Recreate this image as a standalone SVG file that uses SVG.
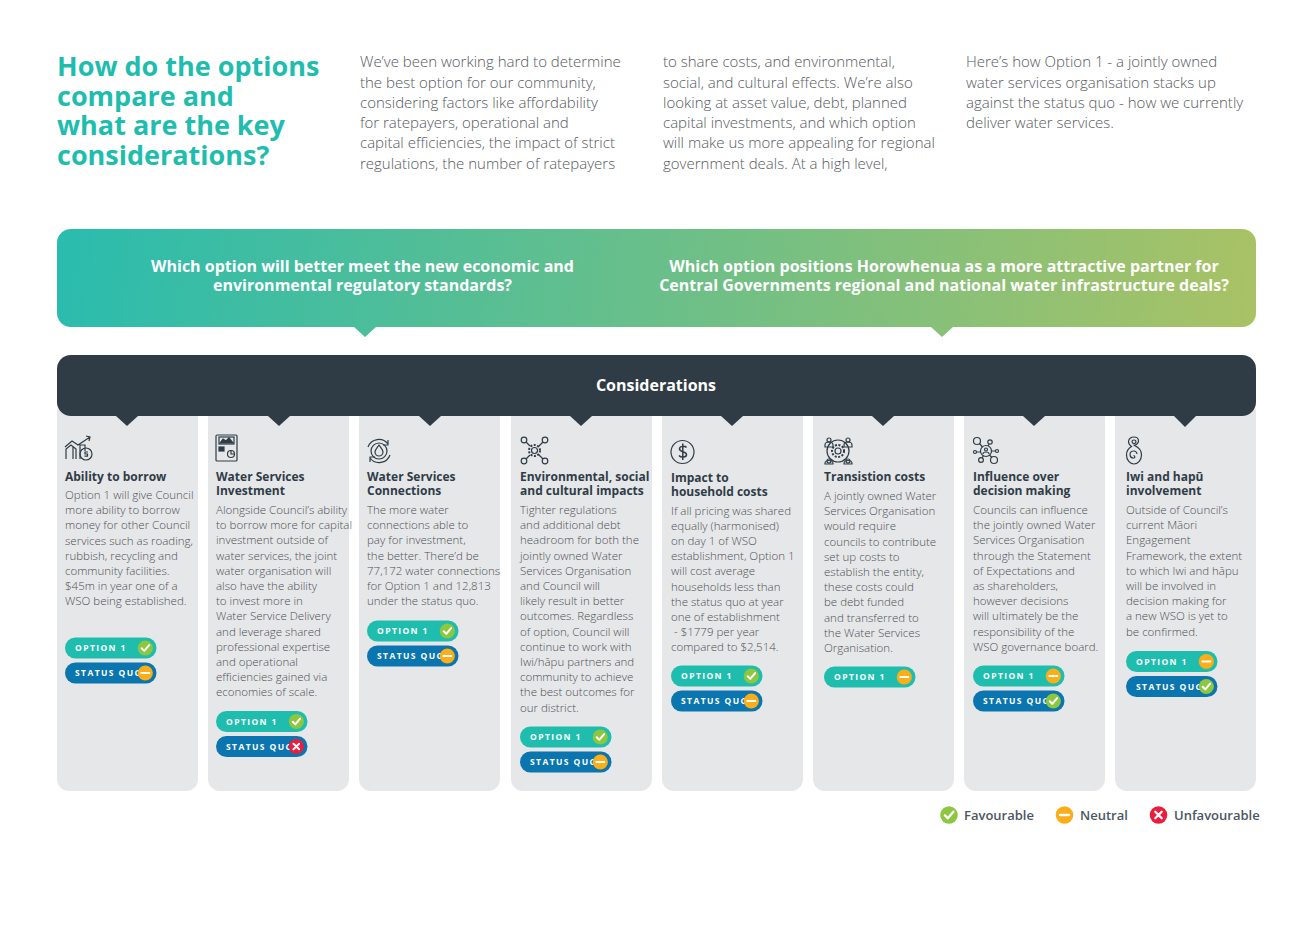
<svg xmlns="http://www.w3.org/2000/svg" width="1311" height="927" viewBox="0 0 1311 927">
<style>
text{font-family:"Open Sans","Noto Sans","Liberation Sans",sans-serif}
.h{font-size:27px;font-weight:700;fill:#1fbdae}
.p{font-size:15px;font-weight:300;fill:#55595e}
.q{font-size:16px;font-weight:700;fill:#fff;text-anchor:middle}
.card{fill:#e6e7e9}
.t{font-size:12px;font-weight:700;fill:#2f3c46}
.b{font-size:11.5px;font-weight:300;fill:#4c5054}
.pt{font-size:8.5px;font-weight:700;fill:#fff;letter-spacing:1.4px}
.o{fill:#1fbdae}.s{fill:#0a75ae}
.i{fill:none;stroke:#2f3c46;stroke-width:1.2}
.m{fill:none;stroke:#fff;stroke-width:2;stroke-linecap:round;stroke-linejoin:round}
.l{font-size:13px;font-weight:600;fill:#4b5661}
</style>
<defs>
<linearGradient id="g" gradientUnits="userSpaceOnUse" x1="57" y1="229" x2="1256" y2="327">
<stop offset="0" stop-color="#2abcae"/><stop offset="1" stop-color="#a9c265"/>
</linearGradient>
<g id="ok"><circle r="7.6" fill="#8dc63f"/><path class="m" d="M-3.6 0.2L-1 2.9L3.8-2.9"/></g>
<g id="ne"><circle r="7.6" fill="#fbae17"/><path class="m" d="M-4 0H4"/></g>
<g id="no"><circle r="7.6" fill="#ed1c3c"/><path class="m" d="M-2.8-2.8L2.8 2.8M2.8-2.8L-2.8 2.8"/></g>
<g id="po"><rect width="91.500" height="21" rx="10.500" class="o"/><text class="pt" x="10" y="13.700">OPTION 1</text></g>
<g id="ps"><rect width="91.500" height="21" rx="10.500" class="s"/><text class="pt" x="10" y="13.700">STATUS QUO</text></g>
</defs>

<g id="intro">
<text class="h"><tspan x="57" y="76">How do the options</tspan><tspan x="57" y="106">compare and</tspan><tspan x="57" y="135">what are the key</tspan><tspan x="57" y="165">considerations?</tspan></text>
<text class="p"><tspan x="360" y="67">We’ve been working hard to determine</tspan><tspan x="360" y="88">the best option for our community,</tspan><tspan x="360" y="108">considering factors like affordability</tspan><tspan x="360" y="128">for ratepayers, operational and</tspan><tspan x="360" y="148">capital efficiencies, the impact of strict</tspan><tspan x="360" y="169">regulations, the number of ratepayers</tspan></text>
<text class="p"><tspan x="663" y="67">to share costs, and environmental,</tspan><tspan x="663" y="88">social, and cultural effects. We’re also</tspan><tspan x="663" y="108">looking at asset value, debt, planned</tspan><tspan x="663" y="128">capital investments, and which option</tspan><tspan x="663" y="148">will make us more appealing for regional</tspan><tspan x="663" y="169">government deals. At a high level,</tspan></text>
<text class="p"><tspan x="966" y="67">Here’s how Option 1 - a jointly owned</tspan><tspan x="966" y="88">water services organisation stacks up</tspan><tspan x="966" y="108">against the status quo - how we currently</tspan><tspan x="966" y="128">deliver water services.</tspan></text>
</g>

<g id="cards">
<g id="card-1"><rect class="card" x="57" y="400" width="141" height="391" rx="12"/>
<g class="i"><path d="M66 459V449l5-4 5 4v10M73 459V447M80 459V445h5v6M65 447l7-6 6 4 12-8M86 436l4 1-1 4"/><circle cx="86" cy="454" r="6"/><path d="M88 452h-3v2h2.500v2.200h-3"/></g>
<text class="t" x="65" y="481">Ability to borrow</text>
<text class="b"><tspan x="65" y="499">Option 1 will give Council</tspan><tspan x="65" y="514.200">more ability to borrow</tspan><tspan x="65" y="529.400">money for other Council</tspan><tspan x="65" y="544.600">services such as roading,</tspan><tspan x="65" y="559.800">rubbish, recycling and</tspan><tspan x="65" y="575">community facilities.</tspan><tspan x="65" y="590.200">$45m in year one of a</tspan><tspan x="65" y="605.400">WSO being established.</tspan></text>
<use href="#po" x="65" y="637.500"/><use href="#ok" x="145.300" y="648"/><use href="#ps" x="65" y="662.500"/><use href="#ne" x="145.300" y="673"/></g>

<g id="card-2"><rect class="card" x="208" y="400" width="141" height="391" rx="12"/>
<g class="i"><rect x="216" y="435" width="21" height="26" rx="1"/><rect x="219" y="437" width="15" height="7"/><path d="M220 443l3-4 3 2 3-3 4 5z" fill="#2f3c46"/><rect x="219" y="447" width="5" height="4" fill="#2f3c46"/><circle cx="231" cy="454" r="3.500"/><path d="M231 450.500V454h3.500"/></g>
<text class="t"><tspan x="216" y="481">Water Services</tspan><tspan x="216" y="495">Investment</tspan></text>
<text class="b"><tspan x="216" y="514">Alongside Council’s ability</tspan><tspan x="216" y="529.200">to borrow more for capital</tspan><tspan x="216" y="544.400">investment outside of</tspan><tspan x="216" y="559.600">water services, the joint</tspan><tspan x="216" y="574.800">water organisation will</tspan><tspan x="216" y="590">also have the ability</tspan><tspan x="216" y="605.200">to invest more in</tspan><tspan x="216" y="620.400">Water Service Delivery</tspan><tspan x="216" y="635.600">and leverage shared</tspan><tspan x="216" y="650.800">professional expertise</tspan><tspan x="216" y="666">and operational</tspan><tspan x="216" y="681.200">efficiencies gained via</tspan><tspan x="216" y="696.400">economies of scale.</tspan></text>
<use href="#po" x="216" y="711"/><use href="#ok" x="296.300" y="721.500"/><use href="#ps" x="216" y="736"/><use href="#no" x="296.300" y="746.500"/></g>

<g id="card-3"><rect class="card" x="359" y="400" width="141" height="391" rx="12"/>
<g class="i"><path d="M368 447a11.500 11.500 0 0 1 20-3M390 455a11.500 11.500 0 0 1-20 3M388 440v5h-5M370 462v-5h5"/><circle cx="379" cy="451" r="8"/><path d="M379 445c-2 3-4 5-4 7a4 4 0 0 0 8 0c0-2-2-4-4-7z"/></g>
<text class="t"><tspan x="367" y="481">Water Services</tspan><tspan x="367" y="495">Connections</tspan></text>
<text class="b"><tspan x="367" y="514">The more water</tspan><tspan x="367" y="529.200">connections able to</tspan><tspan x="367" y="544.400">pay for investment,</tspan><tspan x="367" y="559.600">the better. There’d be</tspan><tspan x="367" y="574.800">77,172 water connections</tspan><tspan x="367" y="590">for Option 1 and 12,813</tspan><tspan x="367" y="605.200">under the status quo.</tspan></text>
<use href="#po" x="367" y="620.500"/><use href="#ok" x="447.300" y="631"/><use href="#ps" x="367" y="645.500"/><use href="#ne" x="447.300" y="656"/></g>

<g id="card-4"><rect class="card" x="511" y="400" width="141" height="391" rx="12"/>
<g class="i"><circle cx="524" cy="440" r="2.800"/><circle cx="545" cy="440" r="2.800"/><circle cx="524" cy="461" r="2.800"/><circle cx="545" cy="461" r="2.800"/><path d="M526 442l4 4M543 442l-4 4M526 459l4-4M543 459l-4-4"/><circle cx="534.500" cy="450.500" r="3"/><circle cx="534.500" cy="450.500" r="5.500" stroke-width="2" stroke-dasharray="2 1.500"/></g>
<text class="t"><tspan x="520" y="481">Environmental, social</tspan><tspan x="520" y="495">and cultural impacts</tspan></text>
<text class="b"><tspan x="520" y="514">Tighter regulations</tspan><tspan x="520" y="529.200">and additional debt</tspan><tspan x="520" y="544.400">headroom for both the</tspan><tspan x="520" y="559.600">jointly owned Water</tspan><tspan x="520" y="574.800">Services Organisation</tspan><tspan x="520" y="590">and Council will</tspan><tspan x="520" y="605.200">likely result in better</tspan><tspan x="520" y="620.400">outcomes. Regardless</tspan><tspan x="520" y="635.600">of option, Council will</tspan><tspan x="520" y="650.800">continue to work with</tspan><tspan x="520" y="666">Iwi/hāpu partners and</tspan><tspan x="520" y="681.200">community to achieve</tspan><tspan x="520" y="696.400">the best outcomes for</tspan><tspan x="520" y="711.600">our district.</tspan></text>
<use href="#po" x="520" y="726.500"/><use href="#ok" x="600.300" y="737"/><use href="#ps" x="520" y="751.500"/><use href="#ne" x="600.300" y="762"/></g>

<g id="card-5"><rect class="card" x="662" y="400" width="141" height="391" rx="12"/>
<g class="i"><circle cx="682.500" cy="452" r="11.500"/><path d="M686.500 447.500c-1-1.500-7-2-7 1.500s7 2 7 5.500-6 3-7.500 1M682.800 443.500V460" stroke-width="1.500"/></g>
<text class="t"><tspan x="671" y="482">Impact to</tspan><tspan x="671" y="496">household costs</tspan></text>
<text class="b"><tspan x="671" y="514.500">If all pricing was shared</tspan><tspan x="671" y="529.700">equally (harmonised)</tspan><tspan x="671" y="544.900">on day 1 of WSO</tspan><tspan x="671" y="560.100">establishment, Option 1</tspan><tspan x="671" y="575.300">will cost average</tspan><tspan x="671" y="590.500">households less than</tspan><tspan x="671" y="605.700">the status quo at year</tspan><tspan x="671" y="620.900">one of establishment</tspan><tspan x="671" y="636.100"> - $1779 per year</tspan><tspan x="671" y="651.300">compared to $2,514.</tspan></text>
<use href="#po" x="671" y="665.500"/><use href="#ok" x="751.300" y="676"/><use href="#ps" x="671" y="690.500"/><use href="#ne" x="751.300" y="701"/></g>

<g id="card-6"><rect class="card" x="813" y="400" width="141" height="391" rx="12"/>
<g class="i"><circle cx="838" cy="451" r="3"/><circle cx="838" cy="451" r="6" stroke-width="2" stroke-dasharray="2 1.500"/><circle cx="838" cy="451" r="11"/><circle cx="829" cy="440" r="2"/><circle cx="848" cy="440" r="2"/><circle cx="829" cy="461" r="2"/><circle cx="848" cy="461" r="2"/><path d="M825 447v-2a4 3 0 0 1 8 0v2zM844 447v-2a4 3 0 0 1 8 0v2zM825 464v-.500a4 3 0 0 1 8 0v.500zM844 464v-.500a4 3 0 0 1 8 0v.500z"/></g>
<text class="t" x="824" y="481">Transistion costs</text>
<text class="b"><tspan x="824" y="500">A jointly owned Water</tspan><tspan x="824" y="515.200">Services Organisation</tspan><tspan x="824" y="530.400">would require</tspan><tspan x="824" y="545.600">councils to contribute</tspan><tspan x="824" y="560.800">set up costs to</tspan><tspan x="824" y="576">establish the entity,</tspan><tspan x="824" y="591.200">these costs could</tspan><tspan x="824" y="606.400">be debt funded</tspan><tspan x="824" y="621.600">and transferred to</tspan><tspan x="824" y="636.800">the Water Services</tspan><tspan x="824" y="652">Organisation.</tspan></text>
<use href="#po" x="824" y="666.500"/><use href="#ne" x="904.300" y="677"/></g>

<g id="card-7"><rect class="card" x="964" y="400" width="141" height="391" rx="12"/>
<g class="i"><circle cx="986" cy="451" r="5.500"/><circle cx="986" cy="449.500" r="1.500"/><path d="M983 454a3 2 0 0 1 6 0"/><circle cx="977" cy="441" r="3.500"/><circle cx="990" cy="442" r="2.200"/><circle cx="975" cy="452" r="1.500"/><circle cx="997" cy="451" r="1.500"/><circle cx="981" cy="460" r="2.400"/><circle cx="994" cy="460" r="3.500"/><path d="M979.500 443.500l3 3.500M989 444l-1 2M976.500 452h4M991.500 451h4M982 458l1.500-2.500M992 457.500l-2.500-2.500"/></g>
<text class="t"><tspan x="973" y="481">Influence over</tspan><tspan x="973" y="495">decision making</tspan></text>
<text class="b"><tspan x="973" y="514">Councils can influence</tspan><tspan x="973" y="529.200">the jointly owned Water</tspan><tspan x="973" y="544.400">Services Organisation</tspan><tspan x="973" y="559.600">through the Statement</tspan><tspan x="973" y="574.800">of Expectations and</tspan><tspan x="973" y="590">as shareholders,</tspan><tspan x="973" y="605.200">however decisions</tspan><tspan x="973" y="620.400">will ultimately be the</tspan><tspan x="973" y="635.600">responsibility of the</tspan><tspan x="973" y="650.800">WSO governance board.</tspan></text>
<use href="#po" x="973" y="665.500"/><use href="#ne" x="1053.300" y="676"/><use href="#ps" x="973" y="690.500"/><use href="#ok" x="1053.300" y="701"/></g>

<g id="card-8"><rect class="card" x="1115" y="400" width="141" height="391" rx="12"/>
<g class="i" stroke-width="1"><path d="M1134 437c3 0 4.500 2 4.500 4s-2 3.500-4 4.500c3.500 1.500 7 5 7 9.500 0 5-3.500 9-7.500 9s-7.500-4-7.500-9c0-4 2.500-7 5-8.500-1.500-1-3-3-3-5 0-2.500 2.500-4.500 5.500-4.500z"/><path d="M1134 440c1.500 0 2 1 2 1.500s-1 2-2 2.500c-1-.500-2-1.500-2-2.500s1-1.500 2-1.500zM1137 454a3.500 3.500 0 1 0-3.500 4c2 0 1.500-2.500 0-2.500"/></g>
<text class="t"><tspan x="1126" y="481">Iwi and hapū</tspan><tspan x="1126" y="495">involvement</tspan></text>
<text class="b"><tspan x="1126" y="514">Outside of Council’s</tspan><tspan x="1126" y="529.200">current Māori</tspan><tspan x="1126" y="544.400">Engagement</tspan><tspan x="1126" y="559.600">Framework, the extent</tspan><tspan x="1126" y="574.800">to which Iwi and hāpu</tspan><tspan x="1126" y="590">will be involved in</tspan><tspan x="1126" y="605.200">decision making for</tspan><tspan x="1126" y="620.400">a new WSO is yet to</tspan><tspan x="1126" y="635.600">be confirmed.</tspan></text>
<use href="#po" x="1126" y="651"/><use href="#ne" x="1206.300" y="661.500"/><use href="#ps" x="1126" y="676"/><use href="#ok" x="1206.300" y="686.500"/></g>
</g>

<g id="banner">
<path fill="url(#g)" d="M71 229H1242a14 14 0 0 1 14 14V313a14 14 0 0 1-14 14H953L942 337L931 327H376L365 337L354 327H71a14 14 0 0 1-14-14V243a14 14 0 0 1 14-14z"/>
<text class="q"><tspan x="362.500" y="272">Which option will better meet the new economic and</tspan><tspan x="362.500" y="291">environmental regulatory standards?</tspan></text>
<text class="q"><tspan x="944" y="272">Which option positions Horowhenua as a more attractive partner for</tspan><tspan x="944" y="291">Central Governments regional and national water infrastructure deals?</tspan></text>
</g>

<g id="considerations">
<rect x="57" y="355" width="1199" height="61" rx="14" fill="#2f3c46"/>
<text x="656" y="391" font-size="16" font-weight="700" fill="#fff" text-anchor="middle">Considerations</text>
</g>

<g id="connectors" fill="#2f3c46">
<path d="M116 416H138L127 426z"/><path d="M268 416H290L279 426z"/><path d="M419 416H441L430 426z"/><path d="M570 416H592L581 426z"/><path d="M721 416H743L732 426z"/><path d="M872 416H894L883 426z"/><path d="M1023 416H1045L1034 426z"/><path d="M1174 416H1196L1185 427z"/>
</g>

<g id="legend">
<use href="#ok" transform="translate(949 815) scale(1.150)"/><text class="l" x="964" y="820">Favourable</text>
<use href="#ne" transform="translate(1064.500 815) scale(1.150)"/><text class="l" x="1080" y="820">Neutral</text>
<use href="#no" transform="translate(1158.500 815) scale(1.150)"/><text class="l" x="1174" y="820">Unfavourable</text>
</g>
</svg>
